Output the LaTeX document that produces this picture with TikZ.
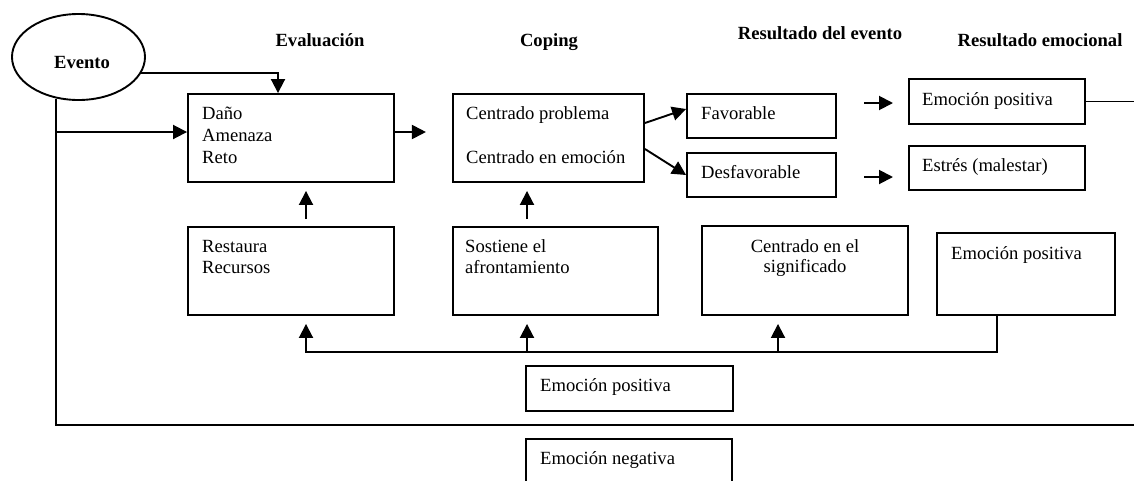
\documentclass[tikz,border=0pt]{standalone}
\usepackage{fontspec}
\setmainfont{Liberation Serif}
\usetikzlibrary{shapes.geometric,arrows.meta,calc}
\newcommand\fsz{\fontsize{18.6}{22}\selectfont}
\tikzset{
  box/.style={draw, rectangle, line width=1.9pt, inner sep=0pt},
  txt/.style={inner sep=0pt, anchor=base west, font=\fsz},
  ctxt/.style={inner sep=0pt, anchor=base, font=\fsz},
  head/.style={inner sep=0pt, anchor=base, font=\fsz\bfseries},
  ln/.style={line width=1.9pt},
  arr/.style={line width=1.9pt, -{Triangle[length=14pt,width=14pt]}}
}
\begin{document}
\begin{tikzpicture}[x=1pt,y=-1pt]
\useasboundingbox (0,0) rectangle (1134,480);
\clip (0,0) rectangle (1134,480);
\fill[white] (0,0) rectangle (1134,480);
% headings
\node[head] (hEval) at (320,46) {Evaluación};
\node[head] (hCop) at (549,46) {Coping};
\node[head] (hRev) at (820,39) {Resultado del evento};
\node[head] (hRem) at (1040,46) {Resultado emocional};
% event
\node[draw, ellipse, line width=1.9pt, inner sep=0pt, minimum width=133pt, minimum height=86pt] (ev) at (78.5,57) {};
\node[head] (tEv) at (82,68) {Evento};
% boxes
\node[box, minimum width=206pt, minimum height=88pt] (b1) at (291,138) {};
\node[box, minimum width=191pt, minimum height=88pt] (b2) at (548.5,138) {};
\node[box, minimum width=149pt, minimum height=44pt] (fav) at (761.5,116) {};
\node[box, minimum width=149pt, minimum height=44pt] (desf) at (761.5,175) {};
\node[box, minimum width=176pt, minimum height=45pt] (ep1) at (997,101.5) {};
\node[box, minimum width=176pt, minimum height=44pt] (est) at (997,168) {};
\node[box, minimum width=206pt, minimum height=88pt] (rest) at (291,271) {};
\node[box, minimum width=205pt, minimum height=88pt] (sost) at (555.5,271) {};
\node[box, minimum width=206pt, minimum height=89pt] (sig) at (805,270.5) {};
\node[box, minimum width=178pt, minimum height=82pt] (ep2) at (1026,274) {};
\node[box, minimum width=207pt, minimum height=45pt] (ep3) at (629.5,388.5) {};
\node[box, minimum width=206pt, minimum height=61pt] (en) at (629,469.5) {};
% texts
\node[txt] (t1a) at (202,119) {Daño};
\node[txt] (t1b) at (202,141) {Amenaza};
\node[txt] (t1c) at (202,163) {Reto};
\node[txt] (t2a) at (466,119) {Centrado problema};
\node[txt] (t2b) at (466,163) {Centrado en emoción};
\node[txt] (tfav) at (701,119) {Favorable};
\node[txt] (tdesf) at (701,178) {Desfavorable};
\node[txt] (tep1) at (922,105) {Emoción positiva};
\node[txt] (test) at (922,171) {Estrés (malestar)};
\node[txt] (tra) at (202,252) {Restaura};
\node[txt] (trb) at (202,273) {Recursos};
\node[txt] (tsa) at (465,252) {Sostiene el};
\node[txt] (tsb) at (465,273) {afrontamiento};
\node[ctxt] (tga) at (805,252) {Centrado en el};
\node[ctxt] (tgb) at (805,272) {significado};
\node[txt] (tep2) at (951,259) {Emoción positiva};
\node[txt] (tep3) at (540,391) {Emoción positiva};
\node[txt] (ten) at (540,464) {Emoción negativa};
% helper coordinates
\coordinate (jL) at (57,132);
\coordinate (bottomR) at (1140,425);
\coordinate (fa1) at (864,103);
\coordinate (fa2) at (864,177);
\coordinate (xR) at (306,0);
\coordinate (xS) at (527,0);
\coordinate (xG) at (778,0);
\coordinate (xE) at (997,0);
\coordinate (busY) at (0,352);
% connectors
\draw[arr] (ev.-14) -| ([xshift=-13pt]b1.north);
\draw[ln] (ev.-118) |- (bottomR);
\draw[arr] (jL) -- (jL -| b1.west);
\draw[arr] (jL -| b1.east) -- ++(31,0);
\draw[arr] ([yshift=15pt]b2.east) -- ([yshift=7pt]fav.west);
\draw[arr] ([yshift=-11pt]b2.east) -- (desf.west);
\draw[arr] (fa1) -- ++(29,0);
\draw[arr] (fa2) -- ++(29,0);
\draw[ln] (ep1.east) -- ++(60,0);
\draw[arr] ([yshift=7pt]rest.north -| xR) -- ([yshift=-8pt]b1.south -| xR);
\draw[arr] ([yshift=7pt]sost.north -| xS) -- ([yshift=-8pt]b2.south -| xS);
\draw[arr] (ep2.south -| xE) |- (busY -| xR) -- ([yshift=-8pt]rest.south -| xR);
\draw[arr] (busY -| xS) -- ([yshift=-8pt]sost.south -| xS);
\draw[arr] (busY -| xG) -- ([yshift=-8pt]sig.south -| xG);
\end{tikzpicture}
\end{document}
